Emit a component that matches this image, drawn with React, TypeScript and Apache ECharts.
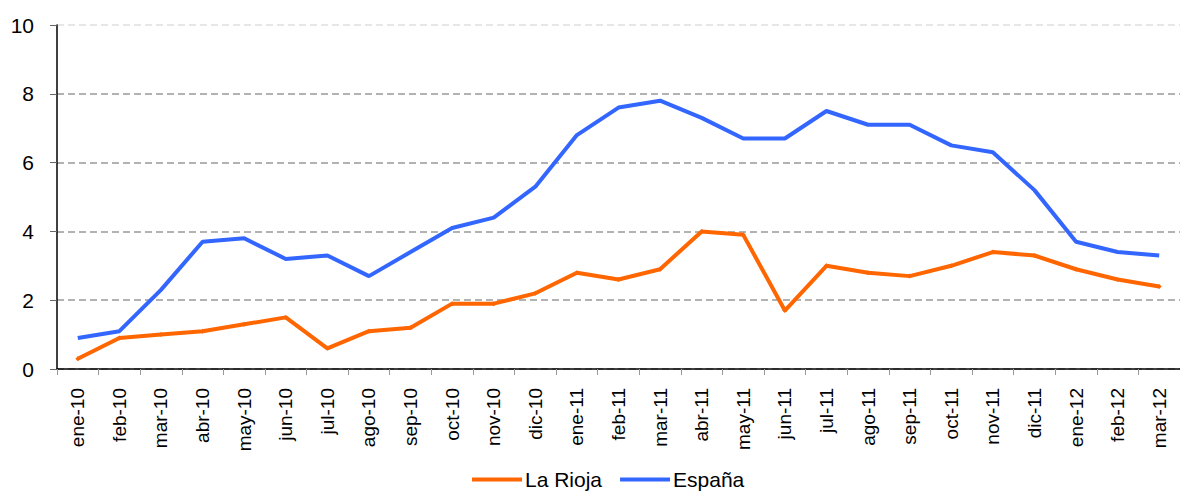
import React, { useEffect, useRef } from "react";
import * as echarts from "echarts";

const categories = [
  "ene-10", "feb-10", "mar-10", "abr-10", "may-10", "jun-10", "jul-10", "ago-10", "sep-10", "oct-10", "nov-10", "dic-10",
  "ene-11", "feb-11", "mar-11", "abr-11", "may-11", "jun-11", "jul-11", "ago-11", "sep-11", "oct-11", "nov-11", "dic-11",
  "ene-12", "feb-12", "mar-12",
];
const laRioja = [0.3, 0.9, 1.0, 1.1, 1.3, 1.5, 0.6, 1.1, 1.2, 1.9, 1.9, 2.2, 2.8, 2.6, 2.9, 4.0, 3.9, 1.7, 3.0, 2.8, 2.7, 3.0, 3.4, 3.3, 2.9, 2.6, 2.4];
const espana = [0.9, 1.1, 2.3, 3.7, 3.8, 3.2, 3.3, 2.7, 3.4, 4.1, 4.4, 5.3, 6.8, 7.6, 7.8, 7.3, 6.7, 6.7, 7.5, 7.1, 7.1, 6.5, 6.3, 5.2, 3.7, 3.4, 3.3];
const yMin = 0;
const yMax = 10;
const yStep = 2;

const FONT = "'Liberation Sans', Arial, Helvetica, sans-serif";

export default function App() {
  const ref = useRef<HTMLDivElement>(null);
  useEffect(() => {
    if (!ref.current) return;
    const chart = echarts.init(ref.current, null, { renderer: "svg" });
    chart.setOption({
      animation: false,
      backgroundColor: "#ffffff",
      grid: { left: 57, top: 25, width: 1134, height: 344, containLabel: false },
      legend: {
        top: 464,
        left: 467,
        itemWidth: 50,
        itemHeight: 4,
        itemGap: 18,
        textStyle: { fontFamily: FONT, fontSize: 21, color: "#000", padding: [0, 0, 0, -2] },
        data: [
          { name: "La Rioja", icon: "rect" },
          { name: "España", icon: "rect" },
        ],
      },
      xAxis: {
        type: "category",
        data: categories,
        boundaryGap: true,
        axisLine: { lineStyle: { color: "#000", width: 1.5 } },
        axisTick: { show: true, length: 6, lineStyle: { color: "#999" } },
        axisLabel: { rotate: 90, fontFamily: FONT, fontSize: 19, color: "#000", margin: 19 },
        splitLine: { show: false },
      },
      yAxis: {
        type: "value",
        min: yMin,
        max: yMax,
        interval: yStep,
        axisLine: { show: true, lineStyle: { color: "#000", width: 1.5 } },
        axisTick: { show: true, length: 7, lineStyle: { color: "#666" } },
        axisLabel: { fontFamily: FONT, fontSize: 21, color: "#000", margin: 23 },
        splitLine: {
          show: true,
          lineStyle: { color: ["#999", "#999", "#999", "#999", "#999", "#e0e0e0"], type: [7, 4], width: 1.5 },
        },
      },
      series: [
        {
          name: "La Rioja",
          type: "line",
          data: laRioja,
          color: "#FF6600",
          lineStyle: { width: 4, color: "#FF6600" },
          symbol: "diamond",
          symbolSize: 5,
          showSymbol: true,
          itemStyle: { color: "#FF6600" },
        },
        {
          name: "España",
          type: "line",
          data: espana,
          color: "#3366FF",
          lineStyle: { width: 4, color: "#3366FF" },
          symbol: "none",
          itemStyle: { color: "#3366FF" },
        },
      ],
    });
    return () => chart.dispose();
  }, []);
  return <div ref={ref} style={{ position: "fixed", left: 0, top: 0, width: 1180, height: 496 }} />;
}
